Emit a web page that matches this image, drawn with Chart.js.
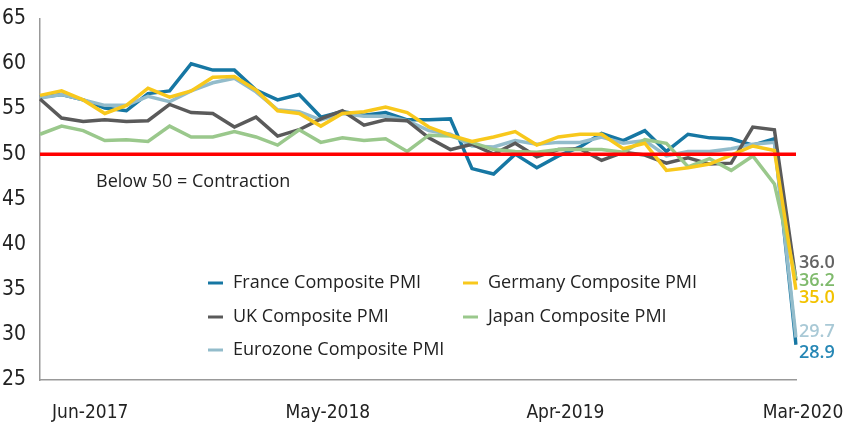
<!DOCTYPE html>
<html lang="en">
<head>
    <meta charset="UTF-8">
    <title>Composite PMI</title>
    <script src="https://cdn.jsdelivr.net/npm/chart.js"></script>
    <style>
        body { margin: 0; background: #fff; }
        #chart-container { position: relative; width: 846px; height: 422px; }
    </style>
</head>
<body>
    <div id="chart-container">
        <canvas id="pmi-chart"></canvas>
    </div>

    <script>
        // Monthly, Apr-2017 .. Mar-2020
        const months = [
            'Apr-2017', 'May-2017', 'Jun-2017', 'Jul-2017', 'Aug-2017', 'Sep-2017', 'Oct-2017', 'Nov-2017', 'Dec-2017',
            'Jan-2018', 'Feb-2018', 'Mar-2018', 'Apr-2018', 'May-2018', 'Jun-2018', 'Jul-2018', 'Aug-2018', 'Sep-2018',
            'Oct-2018', 'Nov-2018', 'Dec-2018', 'Jan-2019', 'Feb-2019', 'Mar-2019', 'Apr-2019', 'May-2019', 'Jun-2019',
            'Jul-2019', 'Aug-2019', 'Sep-2019', 'Oct-2019', 'Nov-2019', 'Dec-2019', 'Jan-2020', 'Feb-2020', 'Mar-2020'
        ];
        const shownMonths = ['Jun-2017', 'May-2018', 'Apr-2019', 'Mar-2020'];

        const france = [56.3, 56.6, 56.0, 55.1, 54.8, 56.7, 57.0, 60.0, 59.3, 59.3, 57.1, 56.0,
                        56.6, 54.1, 54.7, 54.3, 54.6, 53.8, 53.8, 53.9, 48.4, 47.8, 50.0, 48.5,
                        49.8, 50.8, 52.3, 51.5, 52.6, 50.3, 52.2, 51.8, 51.7, 51.0, 51.7, 28.9];
        const germany = [56.5, 57.0, 56.0, 54.5, 55.4, 57.3, 56.3, 57.0, 58.5, 58.6, 57.1, 54.8,
                         54.5, 53.1, 54.5, 54.7, 55.2, 54.6, 53.0, 52.1, 51.4, 51.9, 52.5, 51.0,
                         51.9, 52.2, 52.2, 50.6, 51.2, 48.2, 48.5, 48.9, 49.9, 50.9, 50.4, 35.0];
        const uk = [56.1, 54.0, 53.6, 53.8, 53.6, 53.7, 55.5, 54.6, 54.5, 53.0, 54.1, 52.0,
                    52.7, 53.9, 54.8, 53.2, 53.8, 53.7, 51.8, 50.5, 51.1, 50.0, 51.2, 49.7,
                    50.5, 50.6, 49.3, 50.2, 49.9, 49.0, 49.6, 48.9, 49.0, 53.0, 52.7, 36.0];
        const japan = [52.2, 53.1, 52.6, 51.5, 51.6, 51.4, 53.1, 51.9, 51.9, 52.5, 51.9, 51.0,
                       52.7, 51.3, 51.8, 51.5, 51.7, 50.3, 52.1, 52.0, 51.3, 50.5, 50.3, 50.2,
                       50.5, 50.5, 50.5, 50.2, 51.6, 51.2, 48.6, 49.5, 48.2, 49.8, 46.7, 36.2];
        const eurozone = [56.2, 56.6, 56.0, 55.4, 55.4, 56.4, 55.8, 57.0, 57.9, 58.4, 56.9, 54.9,
                          54.7, 53.8, 54.5, 54.2, 54.2, 53.7, 52.6, 52.2, 50.9, 50.8, 51.5, 51.1,
                          51.3, 51.3, 51.9, 51.2, 51.5, 49.8, 50.3, 50.3, 50.6, 51.1, 51.3, 29.7];

        const seriesNames = ['France Composite PMI', 'Germany Composite PMI', 'UK Composite PMI',
                             'Japan Composite PMI', 'Eurozone Composite PMI'];
        const seriesData = [france, germany, uk, japan, eurozone];
        const seriesColors = ['#1677a3', '#f8c81c', '#5a5a5a', '#9ac88c', '#93bccb'];
        const labelColors = ['#2687b5', '#f2c200', '#636363', '#7fba6c', '#a9c9d6'];
        const drawOrder = [5, 1, 3, 2, 4];      // higher = drawn earlier
        const endLabelShift = [8, 8, -18, 2, -6];

        const threshold = 50;
        const thresholdNote = 'Below 50 = Contraction';

        const tickFamily = "'Liberation Sans Narrow', 'DejaVu Sans Condensed', sans-serif";
        const textFont = "'Open Sans', 'Noto Sans', sans-serif";

        // red 50 line, note, end values and legend
        const extras = {
            id: 'extras',
            afterDatasetsDraw(chart) {
                const { ctx, chartArea, scales: { x, y } } = chart;
                const y50 = y.getPixelForValue(threshold);

                ctx.save();
                ctx.strokeStyle = '#ff0000';
                ctx.lineWidth = 3.5;
                ctx.beginPath();
                ctx.moveTo(chartArea.left, y50);
                ctx.lineTo(chartArea.right, y50);
                ctx.stroke();

                ctx.fillStyle = '#222';
                ctx.font = `18px ${textFont}`;
                ctx.textBaseline = 'middle';
                ctx.textAlign = 'left';
                ctx.fillText(thresholdNote, chartArea.left + 56, y50 + 28);

                // final values
                ctx.font = `600 18px ${textFont}`;
                const last = months.length - 1;
                seriesData.forEach((data, i) => {
                    const px = x.getPixelForValue(last) + 3;
                    const py = y.getPixelForValue(data[last]) + endLabelShift[i];
                    ctx.fillStyle = labelColors[i];
                    ctx.fillText(data[last].toFixed(1), px, py);
                });

                // legend, two columns
                ctx.font = `18px ${textFont}`;
                const colX = [chartArea.left + 168, chartArea.left + 423];
                const rowY = [283, 317, 350];
                seriesNames.forEach((name, i) => {
                    const cx = colX[i % 2];
                    const cy = rowY[Math.floor(i / 2)];
                    ctx.strokeStyle = seriesColors[i];
                    ctx.lineWidth = 3;
                    ctx.beginPath();
                    ctx.moveTo(cx, cy);
                    ctx.lineTo(cx + 15, cy);
                    ctx.stroke();
                    ctx.fillStyle = '#222';
                    ctx.fillText(name, cx + 25, cy);
                });
                ctx.restore();
            }
        };

        const ctx = document.getElementById('pmi-chart').getContext('2d');
        new Chart(ctx, {
            type: 'line',
            data: {
                labels: months,
                datasets: seriesNames.map((name, i) => ({
                    label: name,
                    data: seriesData[i],
                    borderColor: seriesColors[i],
                    backgroundColor: seriesColors[i],
                    borderWidth: 3.5,
                    pointRadius: 0,
                    tension: 0,
                    order: drawOrder[i]
                }))
            },
            options: {
                responsive: true,
                maintainAspectRatio: false,
                animation: false,
                layout: { padding: { top: 18, right: 50, left: 0, bottom: 0 } },
                plugins: {
                    legend: { display: false },
                    tooltip: { enabled: false }
                },
                scales: {
                    x: {
                        offset: false,
                        grid: { display: false },
                        border: { color: '#999', width: 1.5 },
                        afterFit: (axis) => {
                            axis.height = 42;
                            axis.paddingLeft = 0;
                            axis.paddingRight = 0;
                        },
                        ticks: {
                            autoSkip: false,
                            maxRotation: 0,
                            padding: 14,
                            labelOffset: 7,
                            color: '#222',
                            font: { family: tickFamily, size: 19 },
                            callback: function(value) {
                                const label = this.getLabelForValue(value);
                                return shownMonths.includes(label) ? label : '';
                            }
                        }
                    },
                    y: {
                        min: 25,
                        max: 65,
                        grid: { display: false },
                        border: { color: '#999', width: 1.5 },
                        afterFit: (axis) => { axis.width = 40; },
                        ticks: {
                            stepSize: 5,
                            padding: 6,
                            color: '#222',
                            font: { family: tickFamily, size: 21 }
                        }
                    }
                }
            },
            plugins: [extras]
        });
    </script>
</body>
</html>
